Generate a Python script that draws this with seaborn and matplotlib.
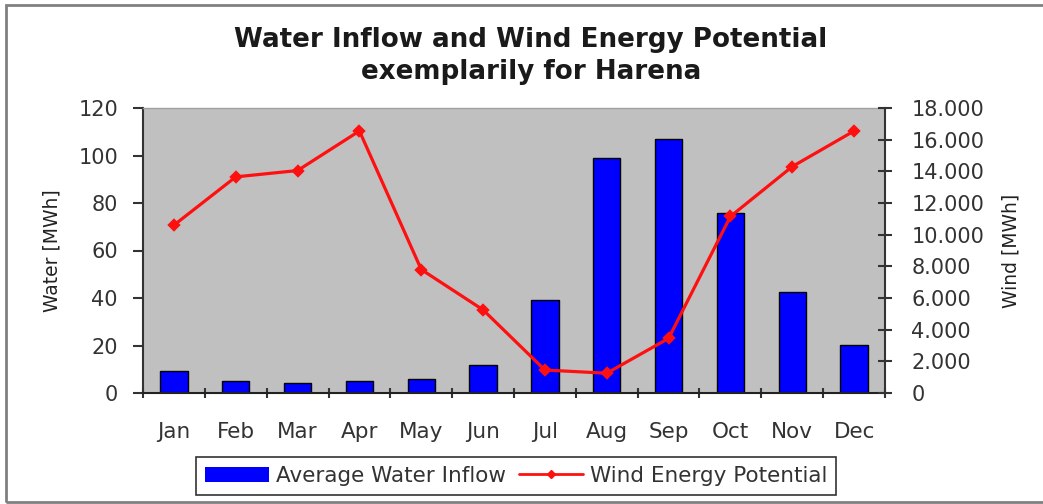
import matplotlib
matplotlib.use("Agg")
import matplotlib.pyplot as plt
import matplotlib.ticker as mticker
from matplotlib.patches import Rectangle, Patch
from matplotlib.lines import Line2D
import seaborn as sns
import pandas as pd

months = ["Jan", "Feb", "Mar", "Apr", "May", "Jun", "Jul", "Aug", "Sep", "Oct", "Nov", "Dec"]
water = [9.2, 5.0, 4.3, 5.0, 6.0, 11.8, 39.2, 99.0, 106.8, 75.8, 42.4, 20.4]
wind = [10600, 13650, 14050, 16550, 7800, 5250, 1450, 1250, 3450, 11150, 14300, 16550]

sns.set_theme(style="white")
plt.rcParams['font.family'] = ['DejaVu Sans']

df = pd.DataFrame({"month": months, "water": water, "wind": wind})

fig = plt.figure(figsize=(10.43, 5.04), dpi=100)
ax = fig.add_axes([143/1043, 1 - 393/504, (885 - 143)/1043, (393 - 108)/504])
ax.set_facecolor("#C0C0C0")

sns.barplot(data=df, x="month", y="water", ax=ax, color="#0000FF", width=0.44,
            edgecolor="black", linewidth=1.0, saturation=1)
ax.set_xlim(-0.5, 11.5)
ax.set_ylim(0, 120)
ax.set_yticks(range(0, 121, 20))
ax.set_xlabel("")
ax.set_ylabel("Water [MWh]", fontsize=13.5, color="#222222", labelpad=12)

ax2 = ax.twinx()
sns.pointplot(data=df, x="month", y="wind", ax=ax2, color="#FF1010", markers="D",
              linestyles="-", markersize=5, linewidth=2.3)
ax2.set_xlim(-0.5, 11.5)
ax2.set_ylim(0, 18000)
ax2.set_yticks(range(0, 18001, 2000))
ax2.yaxis.set_major_formatter(mticker.FuncFormatter(lambda v, p: f"{int(v):,}".replace(",", ".")))
ax2.set_ylabel("Wind [MWh]", fontsize=13.5, color="#222222", rotation=90, labelpad=12)
ax2.set_xlabel("")

# Category boundary ticks
ax.set_xticks(range(12))
ax.set_xticklabels(months)
ax.set_xticks([i - 0.5 for i in range(13)], minor=True)
ax.tick_params(axis="x", which="major", length=0, pad=21, labelsize=15.5, labelcolor="#333333")
ax.tick_params(axis="x", which="minor", length=7, width=1.5, direction="inout", color="#333333", bottom=True)
ax.tick_params(axis="y", which="major", length=7, width=1.5, direction="out", color="#333333",
               labelsize=15, labelcolor="#333333", left=True, pad=11)
ax2.tick_params(axis="y", which="major", length=10, width=1.5, direction="inout", color="#333333",
                labelsize=15, labelcolor="#333333", right=True, pad=14)

for a in (ax, ax2):
    for s in a.spines.values():
        s.set_visible(False)
ax.spines["left"].set_visible(True)
ax.spines["left"].set_color("#333333")
ax.spines["left"].set_linewidth(1.5)
ax.spines["bottom"].set_visible(True)
ax.spines["bottom"].set_color("#222222")
ax.spines["bottom"].set_linewidth(1.5)
ax2.spines["right"].set_visible(True)
ax2.spines["right"].set_color("#333333")
ax2.spines["right"].set_linewidth(1.5)
ax.spines["top"].set_visible(True)
ax.spines["top"].set_color("#A0A0A0")
ax.spines["top"].set_linewidth(1.0)

fig.text(531/1043, 1 - 40/504, "Water Inflow and Wind Energy Potential", ha="center", va="center",
         fontsize=18.8, fontweight="bold", color="#1a1a1a")
fig.text(531/1043, 1 - 72/504, "exemplarily for Harena", ha="center", va="center",
         fontsize=18.8, fontweight="bold", color="#1a1a1a")

handles = [Patch(facecolor="#0000FF", edgecolor="none"),
           Line2D([0], [0], color="#FF1010", marker="D", markersize=4, linewidth=2)]
leg = fig.legend(handles, ["Average Water Inflow", "Wind Energy Potential"], ncol=2,
                 loc="center", bbox_to_anchor=(516/1043, 1 - 476/504), fontsize=15.5,
                 frameon=True, fancybox=False, edgecolor="black", handlelength=3.0,
                 handletextpad=0.3, columnspacing=0.6, borderpad=0.4, labelcolor="#333333")
leg.get_frame().set_linewidth(1.2)

fig.patches.append(Rectangle((6/1043, 1 - 502/504), 1.2, (502 - 5)/504, transform=fig.transFigure,
                             fill=False, edgecolor="#808080", linewidth=2))

fig.savefig("out.png", dpi=100)
